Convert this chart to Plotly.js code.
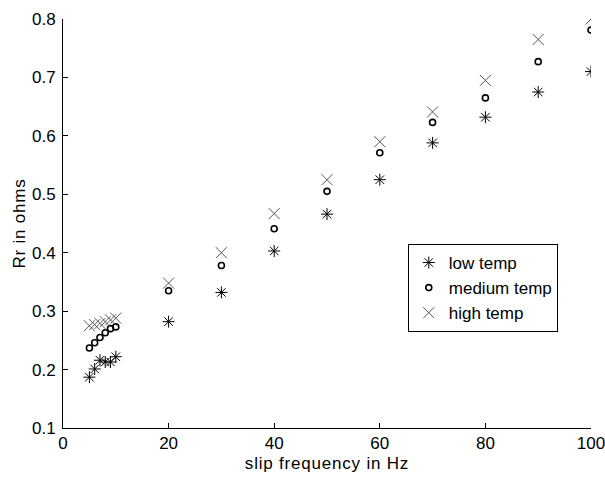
<!DOCTYPE html>
<html><head><meta charset="utf-8">
<script src="https://cdn.plot.ly/plotly-3.0.1.min.js"></script>
<style>
html,body{margin:0;padding:0;background:#fff}#chart{width:605px;height:481px}
#chart .xtitle, #chart .ytitle{letter-spacing:0.8px}
</style>
</head><body><div id="chart"></div>
<script>
const freqLow = [5, 6, 7, 8, 9, 10, 20, 30, 40, 50, 60, 70, 80, 90, 100];
const lowTemp = [0.187, 0.201, 0.216, 0.213, 0.213, 0.222, 0.282, 0.332, 0.403, 0.466, 0.525, 0.588, 0.632, 0.675, 0.710];
const freqMed = [5, 6, 7, 8, 9, 10, 20, 30, 40, 50, 60, 70, 80, 90, 100];
const mediumTemp = [0.237, 0.246, 0.255, 0.263, 0.270, 0.273, 0.335, 0.378, 0.441, 0.505, 0.571, 0.623, 0.665, 0.727, 0.781];
const freqHigh = [5, 6, 7, 8, 9, 10, 20, 30, 40, 50, 60, 70, 80, 90, 100];
const highTemp = [0.275, 0.277, 0.279, 0.282, 0.285, 0.288, 0.348, 0.400, 0.467, 0.525, 0.590, 0.641, 0.695, 0.765, 0.800];
const seriesNames = ['low temp', 'medium temp', 'high temp'];
const xTicks = [0, 20, 40, 60, 80, 100];
const yTicks = [0.1, 0.2, 0.3, 0.4, 0.5, 0.6, 0.7, 0.8];
const yTickText = ['0.1', '0.2', '0.3', '0.4', '0.5', '0.6', '0.7', '0.8'];

const traces = [
  {x: freqLow, y: lowTemp, name: seriesNames[0], mode: 'markers', type: 'scatter',
   marker: {symbol: 'asterisk-open', size: 10, color: '#000', line: {color: '#000', width: 1}}},
  {x: freqMed, y: mediumTemp, name: seriesNames[1], mode: 'markers', type: 'scatter',
   marker: {symbol: 'circle-open', size: 6, color: '#000', line: {color: '#000', width: 1.6}}},
  {x: freqHigh, y: highTemp, name: seriesNames[2], mode: 'markers', type: 'scatter',
   marker: {symbol: 'x-thin-open', size: 11, color: '#555', line: {color: '#555', width: 1}}}
];

const fontFam = '"Liberation Sans", Arial, sans-serif';
const layout = {
  width: 605, height: 481,
  margin: {l: 63, r: 14, t: 19, b: 53},
  paper_bgcolor: '#fff', plot_bgcolor: '#fff',
  font: {family: fontFam, size: 17, color: '#000'},
  showlegend: true,
  legend: {x: 0.653, y: 0.45, xanchor: 'left', yanchor: 'top',
    bordercolor: '#000', borderwidth: 1, bgcolor: '#fff',
    font: {family: fontFam, size: 17, color: '#000'}, tracegroupgap: 0, itemwidth: 30},
  xaxis: {range: [0, 100], tickvals: xTicks, ticks: 'inside', ticklen: 5, ticklabeloverflow: 'allow',
    tickcolor: '#000', showline: true, linecolor: '#000', linewidth: 1, showgrid: false, zeroline: false,
    tickfont: {size: 17}, title: {text: 'slip frequency in Hz', font: {size: 17}, standoff: 4}},
  yaxis: {range: [0.1, 0.8], tickvals: yTicks, ticktext: yTickText,
    ticks: 'inside', ticklen: 5, tickcolor: '#000', showline: true, linecolor: '#000', linewidth: 1,
    showgrid: false, zeroline: false, tickfont: {size: 17}, ticklabelstandoff: 3,
    title: {text: 'Rr in ohms', font: {size: 17}, standoff: 2}}
};
Plotly.newPlot('chart', traces, layout, {displayModeBar: false, staticPlot: true});
</script></body></html>
